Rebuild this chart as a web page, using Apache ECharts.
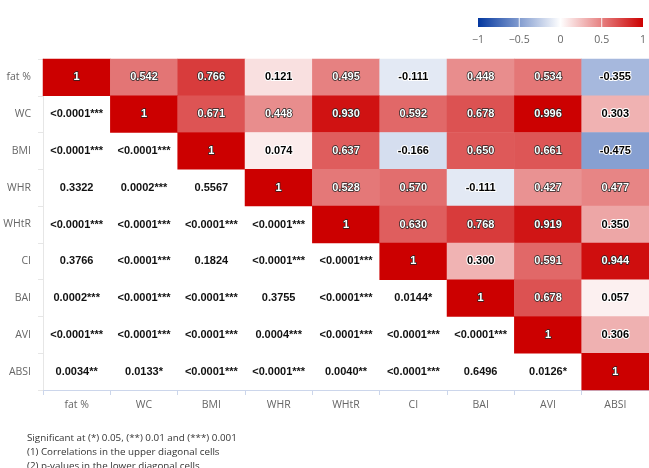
<!DOCTYPE html>
<html>
<head>
<meta charset="utf-8">
<script src="https://cdn.jsdelivr.net/npm/echarts@6/dist/echarts.min.js"></script>
<style>
  html, body { margin: 0; padding: 0; background: #fff; }
  #chart { width: 649px; height: 468px; }
</style>
</head>
<body>
<div id="chart"></div>
<script>
// Anthropometric indices: Pearson correlations (upper triangle) and p-values (lower triangle)
const categories = ['fat %', 'WC', 'BMI', 'WHR', 'WHtR', 'CI', 'BAI', 'AVI', 'ABSI'];

const correlations = [
  [1, 0.542, 0.766, 0.121, 0.495, -0.111, 0.448, 0.534, -0.355],
  [null, 1, 0.671, 0.448, 0.930, 0.592, 0.678, 0.996, 0.303],
  [null, null, 1, 0.074, 0.637, -0.166, 0.650, 0.661, -0.475],
  [null, null, null, 1, 0.528, 0.570, -0.111, 0.427, 0.477],
  [null, null, null, null, 1, 0.630, 0.768, 0.919, 0.350],
  [null, null, null, null, null, 1, 0.300, 0.591, 0.944],
  [null, null, null, null, null, null, 1, 0.678, 0.057],
  [null, null, null, null, null, null, null, 1, 0.306],
  [null, null, null, null, null, null, null, null, 1]
];

const pValues = [
  [],
  ['<0.0001***'],
  ['<0.0001***', '<0.0001***'],
  ['0.3322', '0.0002***', '0.5567'],
  ['<0.0001***', '<0.0001***', '<0.0001***', '<0.0001***'],
  ['0.3766', '<0.0001***', '0.1824', '<0.0001***', '<0.0001***'],
  ['0.0002***', '<0.0001***', '<0.0001***', '0.3755', '<0.0001***', '0.0144*'],
  ['<0.0001***', '<0.0001***', '<0.0001***', '0.0004***', '<0.0001***', '<0.0001***', '<0.0001***'],
  ['0.0034**', '0.0133*', '<0.0001***', '<0.0001***', '0.0040**', '<0.0001***', '0.6496', '0.0126*']
];

const legendTicks = [-1, -0.5, 0, 0.5, 1];

const notes = [
  'Significant at (*) 0.05, (**) 0.01 and (***) 0.001',
  '(1) Correlations in the upper diagonal cells',
  '(2) p-values in the lower diagonal cells'
];

// Diverging colour scale shared by the cells and the colour bar
const scaleColors = ['#03379f', '#ffffff', '#cc0000'];
function hexToRgb(h) {
  return [parseInt(h.slice(1, 3), 16), parseInt(h.slice(3, 5), 16), parseInt(h.slice(5, 7), 16)];
}
function scaleColor(v) {
  const t = (Math.max(-1, Math.min(1, v)) + 1) / 2 * (scaleColors.length - 1);
  const i = Math.min(Math.floor(t), scaleColors.length - 2);
  const f = t - i;
  const a = hexToRgb(scaleColors[i]), b = hexToRgb(scaleColors[i + 1]);
  const c = a.map((x, k) => Math.round(x + (b[k] - x) * f));
  return 'rgb(' + c.join(',') + ')';
}

const FONT = '"Open Sans", "DejaVu Sans", sans-serif';
const CELL_FONT = '"Liberation Sans", Arial, sans-serif';

// Upper triangle + diagonal: coloured cells
const corrData = [];
correlations.forEach((row, i) => {
  row.forEach((v, j) => {
    if (v === null) return;
    const light = v < 0.4;
    corrData.push({
      value: [j, i, v],
      label: light
        ? { color: '#000', textBorderColor: '#fff', textBorderWidth: 2 }
        : { color: '#fff', textBorderColor: '#222', textBorderWidth: 1.4 }
    });
  });
});

// Lower triangle: p-values on white
const pData = [];
pValues.forEach((row, i) => {
  row.forEach((p, j) => {
    pData.push({ value: [j, i, 0], name: p });
  });
});

// Colour bar segments between consecutive ticks
const legendSegments = [];
for (let k = 0; k < legendTicks.length - 1; k++) {
  legendSegments.push([legendTicks[k], legendTicks[k + 1]]);
}

const chart = echarts.init(document.getElementById('chart'), null, { renderer: 'canvas' });

chart.setOption({
  animation: false,
  backgroundColor: '#fff',
  textStyle: { fontFamily: FONT },
  title: {
    text: notes.join('\n'),
    left: 27,
    top: 431,
    padding: 0,
    textStyle: { fontFamily: FONT, fontSize: 9.8, fontWeight: 'normal', color: '#333', lineHeight: 14 }
  },
  grid: [
    { left: 43, top: 59, width: 611, height: 331 },
    { left: 478, top: 18, width: 170, height: 9 }
  ],
  xAxis: [
    {
      type: 'category',
      gridIndex: 0,
      data: categories,
      axisLine: { show: true, lineStyle: { color: '#ccd6eb' } },
      axisTick: { show: true, length: 5, lineStyle: { color: '#ccd6eb' } },
      axisLabel: { color: '#666', fontSize: 10.5, margin: 10, fontFamily: FONT },
      splitLine: { show: false }
    },
    {
      type: 'value',
      gridIndex: 1,
      min: legendTicks[0],
      max: legendTicks[legendTicks.length - 1],
      interval: 0.5,
      axisLine: { show: false },
      axisTick: { show: false },
      splitLine: { show: false },
      axisLabel: {
        color: '#666', fontSize: 10.5, margin: 8, fontFamily: FONT,
        showMinLabel: true, showMaxLabel: true,
        formatter: v => (v < 0 ? '\u2212' + Math.abs(v) : String(v))
      }
    }
  ],
  yAxis: [
    {
      type: 'category',
      gridIndex: 0,
      data: categories,
      inverse: true,
      axisLine: { show: true, lineStyle: { color: '#e6e6e6' } },
      axisTick: { show: true, length: 5, lineStyle: { color: '#e6e6e6' } },
      axisLabel: { color: '#666', fontSize: 10.5, margin: 12, fontFamily: FONT },
      splitLine: { show: false }
    },
    {
      type: 'value',
      gridIndex: 1,
      min: 0,
      max: 1,
      show: false
    }
  ],
  visualMap: {
    type: 'continuous',
    show: false,
    min: -1,
    max: 1,
    seriesIndex: 0,
    dimension: 2,
    inRange: { color: scaleColors }
  },
  series: [
    {
      type: 'heatmap',
      xAxisIndex: 0,
      yAxisIndex: 0,
      data: corrData,
      label: {
        show: true,
        fontSize: 11,
        fontWeight: 'bold',
        fontFamily: CELL_FONT,
        formatter: p => (p.value[2] === 1 ? '1' : p.value[2].toFixed(3))
      },
      emphasis: { disabled: true }
    },
    {
      type: 'heatmap',
      xAxisIndex: 0,
      yAxisIndex: 0,
      data: pData,
      itemStyle: { color: 'rgba(255,255,255,0)' },
      label: {
        show: true,
        fontSize: 11,
        fontWeight: 'bold',
        fontFamily: CELL_FONT,
        color: '#111',
        formatter: '{b}'
      },
      emphasis: { disabled: true }
    },
    {
      type: 'custom',
      xAxisIndex: 1,
      yAxisIndex: 1,
      data: legendSegments,
      encode: { x: [0, 1] },
      silent: true,
      renderItem: (params, api) => {
        const a = api.value(0), b = api.value(1);
        const p0 = api.coord([a, 1]);
        const p1 = api.coord([b, 0]);
        const children = [{
          type: 'rect',
          shape: { x: p0[0], y: p0[1], width: p1[0] - p0[0], height: p1[1] - p0[1] },
          style: {
            fill: new echarts.graphic.LinearGradient(0, 0, 1, 0, [
              { offset: 0, color: scaleColor(a) },
              { offset: 1, color: scaleColor(b) }
            ])
          }
        }];
        if (a > legendTicks[0]) {
          children.push({
            type: 'line',
            shape: { x1: p0[0], y1: p0[1], x2: p0[0], y2: p1[1] },
            style: { stroke: 'rgba(255,255,255,0.85)', lineWidth: 1 }
          });
        }
        return { type: 'group', children: children };
      }
    }
  ]
});
</script>
</body>
</html>
